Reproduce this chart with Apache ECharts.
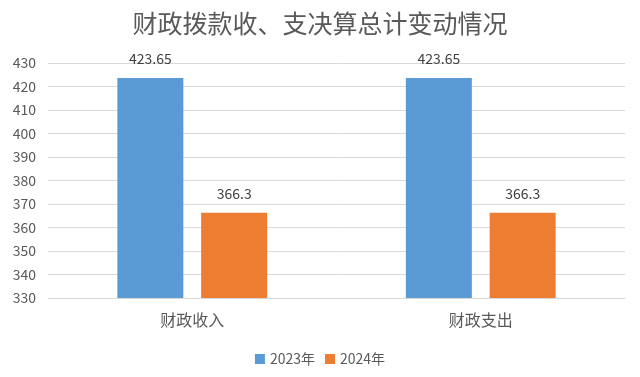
<!DOCTYPE html>
<html><head><meta charset="utf-8">
<script src="https://cdn.jsdelivr.net/npm/echarts@6/dist/echarts.min.js"></script>
<style>html,body{margin:0;padding:0;background:#fff}#c{width:640px;height:377px}</style>
</head><body><div id="c"></div>
<script>
const categories = ['财政收入', '财政支出'];
const seriesNames = ['2023年', '2024年'];
const values2023 = [423.65, 423.65];
const values2024 = [366.3, 366.3];
const font = '"Noto Sans CJK SC", sans-serif';
const chart = echarts.init(document.getElementById('c'));
chart.setOption({
  animation: false,
  title: { text: '财政拨款收、支决算总计变动情况', left: 'center', top: 6,
    textStyle: { fontFamily: font, fontSize: 25, fontWeight: 'normal', color: '#595959' } },
  legend: { data: seriesNames, top: 347, left: 'center', itemWidth: 10, itemHeight: 10, itemGap: 10, icon: 'rect',
    textStyle: { fontFamily: font, fontSize: 14, color: '#595959' } },
  grid: { left: 48, right: 15, top: 63, bottom: 79, containLabel: false },
  xAxis: { type: 'category', data: categories,
    axisLine: { lineStyle: { color: '#d9d9d9' } }, axisTick: { show: false },
    axisLabel: { fontFamily: font, fontSize: 16, color: '#595959', margin: 14 } },
  yAxis: { type: 'value', min: 330, max: 430, interval: 10,
    axisLine: { show: false }, axisTick: { show: false },
    splitLine: { lineStyle: { color: '#d9d9d9' } },
    axisLabel: { fontFamily: font, fontSize: 14, color: '#595959', margin: 12 } },
  series: [
    { name: seriesNames[0], type: 'bar', data: values2023, barWidth: 66, barGap: '27%',
      itemStyle: { color: '#5B9BD5' },
      label: { show: true, position: 'top', fontFamily: font, fontSize: 14, color: '#404040', distance: 12 } },
    { name: seriesNames[1], type: 'bar', data: values2024, barWidth: 66,
      itemStyle: { color: '#ED7D31' },
      label: { show: true, position: 'top', fontFamily: font, fontSize: 14, color: '#404040', distance: 12 } }
  ]
});
</script></body></html>
